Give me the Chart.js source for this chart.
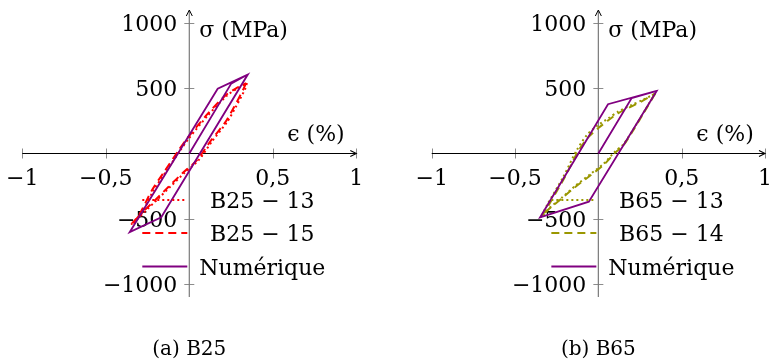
<!DOCTYPE html>
<html>
<head>
<meta charset="utf-8">
<script src="https://cdn.jsdelivr.net/npm/chart.js@4.4.1/dist/chart.umd.min.js"></script>
<style>
  html, body { margin: 0; padding: 0; background: #fff; }
  #wrap { position: relative; width: 771px; height: 364px; }
  #wrap canvas { position: absolute; left: 0; top: 0; }
</style>
</head>
<body>
<div id="wrap">
  <canvas id="chartB25" width="771" height="364"></canvas>
  <canvas id="chartB65" width="771" height="364"></canvas>
</div>
<script>
// axis ticks
const xTicks = [-1, -0.5, 0.5, 1];
const xTickLabels = ['−1', '−0,5', '0,5', '1'];
const yTicks = [1000, 500, -500, -1000];
const yTickLabels = ['1000', '500', '−500', '−1000'];

// B25 : numerical loop (strain %, stress MPa)
const b25NumEps = [0, 0.25, 0.35, -0.168, -0.357, 0.17, 0.35];
const b25NumSig = [0, 534, 605, -489, -603, 496, 605];

// B25-13 (dotted)
const b25_13Eps = [0.345, 0.335, 0.28, 0.226, 0.14, 0.056, -0.03, -0.114, -0.194, -0.27, -0.335,
                   -0.29, -0.213, -0.14, -0.054, -0.004, 0.11, 0.226, 0.29, 0.345];
const b25_13Sig = [540, 496, 360, 241, 100, -51, -150, -255, -356, -450, -535,
                   -470, -280, -140, 24, 114, 290, 445, 500, 540];

// B25-15 (dashed)
const b25_15Eps = [0.34, 0.325, 0.27, 0.216, 0.13, 0.046, -0.04, -0.124, -0.204, -0.28, -0.345,
                   -0.3, -0.223, -0.15, -0.064, -0.014, 0.1, 0.216, 0.28, 0.34];
const b25_15Sig = [540, 496, 360, 241, 100, -51, -150, -255, -356, -450, -540,
                   -470, -280, -140, 24, 114, 290, 445, 500, 540];

// B65 : numerical loop
const b65NumEps = [0, 0.2, 0.35, -0.057, -0.35, 0.058, 0.35];
const b65NumSig = [0, 425, 480, -369, -490, 378, 480];

// B65-13 (dotted)
const b65_13Eps = [0.34, 0.3, 0.22, 0.15, 0.1, 0.03, -0.05, -0.14, -0.22, -0.3, -0.34,
                   -0.31, -0.21, -0.13, -0.07, -0.01, 0.06, 0.12, 0.2, 0.26, 0.34];
const b65_13Sig = [458, 375, 205, 70, 15, -80, -160, -250, -340, -425, -484,
                   -400, -178, 25, 140, 210, 270, 322, 372, 407, 458];

// B65-14 (dashed)
const b65_14Eps = [0.34, 0.3, 0.22, 0.15, 0.1, 0.03, -0.05, -0.14, -0.22, -0.3, -0.34,
                   -0.3, -0.2, -0.12, -0.06, 0, 0.06, 0.12, 0.2, 0.26, 0.34];
const b65_14Sig = [458, 370, 200, 62, 5, -90, -170, -258, -345, -430, -484,
                   -400, -178, 20, 125, 195, 255, 310, 362, 400, 458];

const PURPLE = '#800080';
const RED = '#ff0000';
const OLIVE = '#9a9700';
const FONT = '"DejaVu Serif", serif';

function toPoints(xs, ys) {
    return xs.map((x, i) => ({ x: x, y: ys[i] }));
}

// draws axes, tick labels, legend and caption in tikz style
const tikzAxes = {
    id: 'tikzAxes',
    beforeDatasetsDraw(chart, args, opts) {
        const ctx = chart.ctx;
        const xs = chart.scales.x, ys = chart.scales.y;
        const x0 = xs.getPixelForValue(0), y0 = ys.getPixelForValue(0);
        const left = xs.getPixelForValue(-1), right = xs.getPixelForValue(1);
        const top = chart.chartArea.top, bottom = chart.chartArea.bottom;
        ctx.save();

        // ticks
        ctx.strokeStyle = '#8c8c8c';
        ctx.lineWidth = 1;
        ctx.beginPath();
        xTicks.forEach(v => {
            const px = Math.round(xs.getPixelForValue(v)) + 0.5;
            ctx.moveTo(px, y0 - 5); ctx.lineTo(px, y0 + 5);
        });
        yTicks.forEach(v => {
            const py = Math.round(ys.getPixelForValue(v)) + 0.5;
            ctx.moveTo(x0 - 5, py); ctx.lineTo(x0 + 5, py);
        });
        ctx.stroke();

        // y axis (gray)
        ctx.strokeStyle = '#7a7a7a';
        ctx.lineWidth = 1.2;
        ctx.beginPath();
        ctx.moveTo(x0, bottom); ctx.lineTo(x0, top + 1);
        ctx.stroke();
        ctx.strokeStyle = '#000';
        ctx.lineWidth = 1;
        ctx.beginPath();
        ctx.moveTo(x0 - 3, top + 6); ctx.lineTo(x0, top); ctx.lineTo(x0 + 3, top + 6);
        ctx.stroke();

        // x axis (black)
        ctx.lineWidth = 1.1;
        ctx.beginPath();
        ctx.moveTo(left, y0); ctx.lineTo(right - 1, y0);
        ctx.stroke();
        ctx.beginPath();
        ctx.moveTo(right - 6, y0 - 3); ctx.lineTo(right, y0); ctx.lineTo(right - 6, y0 + 3);
        ctx.stroke();

        // tick labels
        ctx.fillStyle = '#000';
        ctx.font = '22px ' + FONT;
        ctx.textAlign = 'center';
        ctx.textBaseline = 'alphabetic';
        xTicks.forEach((v, i) => ctx.fillText(xTickLabels[i], xs.getPixelForValue(v), y0 + 31));
        ctx.textAlign = 'right';
        yTicks.forEach((v, i) => ctx.fillText(yTickLabels[i], x0 - 12, ys.getPixelForValue(v) + 8));

        // axis titles
        ctx.textAlign = 'left';
        ctx.fillText('σ (MPa)', x0 + 10, 37);
        ctx.fillText('ϵ (%)', x0 + 98, y0 - 13);

        // caption
        ctx.textAlign = 'center';
        ctx.font = '20px ' + FONT;
        ctx.fillText(opts.caption, x0, 355);
        ctx.restore();
    },
    afterDatasetsDraw(chart, args, opts) {
        const ctx = chart.ctx;
        const x0 = chart.scales.x.getPixelForValue(0);
        const rows = [200, 233, 266.5];
        const order = opts.legendOrder;
        ctx.save();
        order.forEach((di, r) => {
            const ds = chart.data.datasets[di];
            ctx.strokeStyle = ds.borderColor;
            ctx.lineWidth = ds.borderWidth;
            ctx.setLineDash(ds.borderDash || []);
            ctx.beginPath();
            ctx.moveTo(x0 - 47, rows[r]); ctx.lineTo(x0 - 2, rows[r]);
            ctx.stroke();
            ctx.setLineDash([]);
            ctx.fillStyle = '#000';
            ctx.font = '22px ' + FONT;
            ctx.textAlign = 'center';
            ctx.fillText(ds.label, x0 + 73, rows[r] + 8);
        });
        ctx.restore();
    }
};

function makeChart(id, padLeft, padRight, caption, datasets) {
    return new Chart(document.getElementById(id), {
        type: 'scatter',
        data: { datasets: datasets },
        options: {
            responsive: false,
            animation: false,
            devicePixelRatio: 1,
            layout: { padding: { left: padLeft, right: padRight, top: 10, bottom: 67 } },
            scales: {
                x: { type: 'linear', min: -1, max: 1, display: false },
                y: { type: 'linear', min: -1100, max: 1100, display: false }
            },
            elements: { point: { radius: 0, hoverRadius: 0 } },
            plugins: {
                legend: { display: false },
                tooltip: { enabled: false },
                tikzAxes: { caption: caption, legendOrder: [1, 2, 0] }
            }
        },
        plugins: [tikzAxes]
    });
}

makeChart('chartB25', 22.3, 771 - 356.3, '(a) B25', [
    { label: 'Numérique', data: toPoints(b25NumEps, b25NumSig), showLine: true,
      borderColor: PURPLE, borderWidth: 1.8, tension: 0 },
    { label: 'B25 − 13', data: toPoints(b25_13Eps, b25_13Sig), showLine: true,
      borderColor: RED, borderWidth: 2, borderDash: [2, 3], tension: 0.25 },
    { label: 'B25 − 15', data: toPoints(b25_15Eps, b25_15Sig), showLine: true,
      borderColor: RED, borderWidth: 2, borderDash: [8, 5], tension: 0.25 }
]);

makeChart('chartB65', 431.7, 771 - 765, '(b) B65', [
    { label: 'Numérique', data: toPoints(b65NumEps, b65NumSig), showLine: true,
      borderColor: PURPLE, borderWidth: 1.8, tension: 0 },
    { label: 'B65 − 13', data: toPoints(b65_13Eps, b65_13Sig), showLine: true,
      borderColor: OLIVE, borderWidth: 2, borderDash: [2, 3], tension: 0.25 },
    { label: 'B65 − 14', data: toPoints(b65_14Eps, b65_14Sig), showLine: true,
      borderColor: OLIVE, borderWidth: 2, borderDash: [8, 5], tension: 0.25 }
]);
</script>
</body>
</html>
